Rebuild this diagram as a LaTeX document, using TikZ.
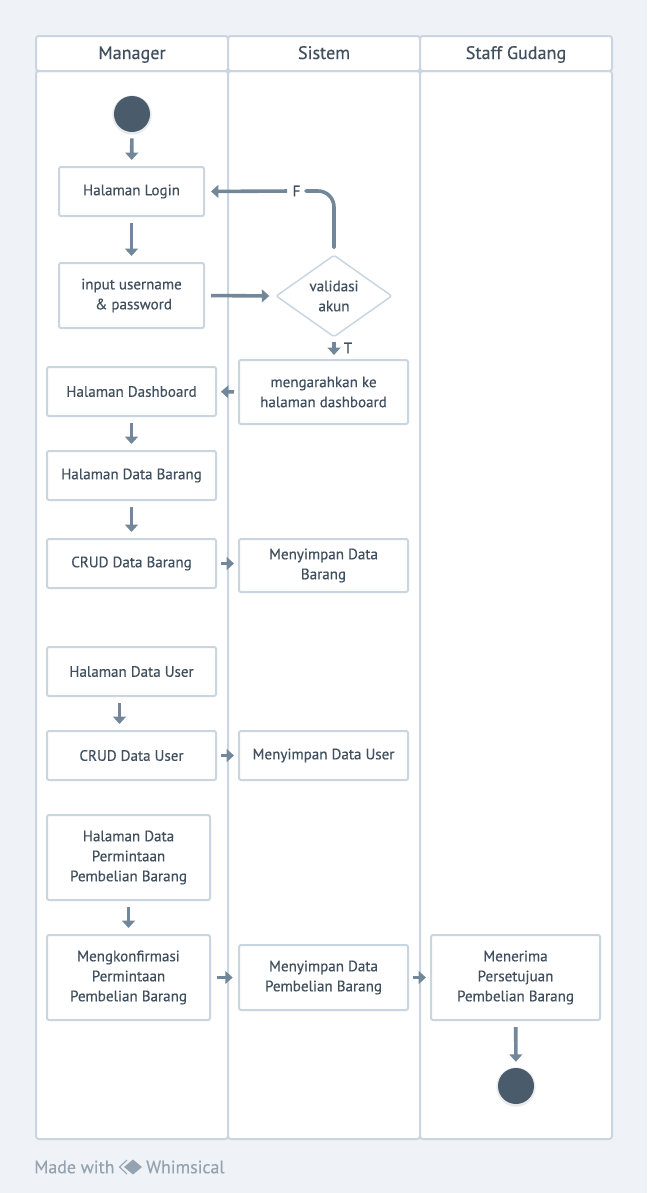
\documentclass[tikz,border=0pt]{standalone}
\usepackage{fontspec}
\setmainfont[FakeBold=0.3]{PT Sans}
\usetikzlibrary{arrows.meta,shapes.geometric,calc}
\definecolor{bgc}{HTML}{EFF3F7}
\definecolor{edge}{HTML}{C9D5E0}
\definecolor{arrowc}{HTML}{73879A}
\definecolor{dark}{HTML}{4A5C6C}
\definecolor{txt}{HTML}{3F4F5E}
\definecolor{foot}{HTML}{94A3AF}
\tikzset{
  x=0.75pt,y=-0.75pt,
  lane/.style={draw=edge,fill=white,line width=1.5pt,rounded corners=2pt},
  lanetitle/.style={text=txt,anchor=base,inner sep=0pt,font=\fontsize{13.6}{15}\selectfont},
  box/.style={draw=edge,fill=white,line width=1.5pt,rounded corners=1.5pt,text=txt,align=center,
    inner sep=0pt,font=\fontsize{11.3}{15}\selectfont,execute at begin node={\vspace*{2.2pt}}},
  dec/.style={box,diamond,minimum width=87pt,minimum height=61.5pt,line width=1.1pt},
  dot/.style={circle,fill=dark,minimum size=27pt,inner sep=0pt},
  halo/.style={circle,fill=dark,fill opacity=0.12,minimum size=29.5pt,inner sep=0pt},
  conn/.style={draw=arrowc,line width=2.7pt,shorten >=4.5pt,shorten <=4.5pt,
    -{Triangle[width=9.5pt,length=5.5pt]}},
  tight/.style={conn,shorten >=3pt,shorten <=3pt},
  plain/.style={draw=arrowc,line width=2.7pt,line cap=round},
  lbl/.style={text=txt,inner sep=0pt,font=\fontsize{11.3}{15}\selectfont},
  footer/.style={text=foot,inner sep=0pt,anchor=west,font=\fontsize{13.4}{15}\selectfont},
}
\newcommand{\bx}[6]{\node[box,minimum width=#4*0.75pt,minimum height=#5*0.75pt] (#1) at (#2,#3) {#6};}
\begin{document}
\begin{tikzpicture}
\useasboundingbox[fill=bgc] (0,0) rectangle (647,1193);
% lanes
\draw[lane] (36,71) rectangle (228,1139);
\draw[lane] (228,71) rectangle (420,1139);
\draw[lane] (420,71) rectangle (612,1139);
\draw[lane] (36,36) rectangle (228,71);
\draw[lane] (228,36) rectangle (420,71);
\draw[lane] (420,36) rectangle (612,71);
\node[lanetitle] (t1) at (132,59) {Manager};
\node[lanetitle] (t2) at (324,59) {Sistem};
\node[lanetitle] (t3) at (516,59) {Staff Gudang};
% nodes
\node[halo] (starth) at (132,115) {};
\node[dot] (start) at (132,114) {};
\bx{login}{131.5}{191.5}{145}{49}{Halaman Login}
\bx{input}{131.5}{295.5}{145}{65}{input username\\\ \& password}
\node[dec] (val) at (334,296) {validasi\\akun};
\bx{arah}{323.5}{392}{169}{64}{mengarahkan ke\\halaman dashboard}
\bx{dash}{131.5}{391.5}{169}{49}{Halaman Dashboard}
\bx{barang}{131.5}{475.5}{169}{49}{Halaman Data Barang}
\bx{crudb}{131.5}{563.5}{169}{49}{CRUD Data Barang}
\bx{simb}{323.5}{565.5}{169}{53}{Menyimpan Data\\Barang}
\bx{huser}{131.5}{671.5}{169}{49}{Halaman Data User}
\bx{crudu}{131.5}{755.5}{169}{49}{CRUD Data User}
\bx{simu}{323.5}{755.5}{169}{49}{Menyimpan Data User}
\bx{minta}{128.5}{857.5}{163}{85}{Halaman Data\\Permintaan\\Pembelian Barang}
\bx{konf}{128.5}{977.5}{163}{85}{Mengkonfirmasi\\Permintaan\\Pembelian Barang}
\bx{simp}{323.5}{977.5}{169}{65}{Menyimpan Data\\Pembelian Barang}
\bx{terima}{515.5}{977.5}{169}{85}{Menerima\\Persetujuan\\Pembelian Barang}
\node[halo] (endh) at (516,1087) {};
\node[dot] (end) at (516,1086) {};
% connectors
\path[conn] (start) -- (login);
\path[conn] (login) -- (input);
\path[conn] (input.east) -- (val.west);
\node[lbl] (F) at (296.5,191) {F};
\draw[plain,rounded corners=12pt,shorten <=5pt,shorten >=4pt] (val.north) |- (F.east);
\path[conn,shorten <=4pt] (F.west) -- (login.east);
\path[tight] (val.south) -- (val.south |- arah.north);
\node[lbl] (T) at (348,348) {T};
\path[tight] (arah.west) -- (dash.east);
\path[conn] (dash) -- (barang);
\path[conn] (barang) -- (crudb);
\path[tight] (crudb.east) -- (crudb.east -| simb.west);
\path[conn] ([xshift=-9pt]huser.south) -- ([xshift=-9pt]crudu.north);
\path[tight] (crudu) -- (simu);
\path[conn] (minta) -- (konf);
\path[conn,shorten >=4pt] (konf) -- (simp);
\path[tight] (simp) -- (terima);
\path[conn] (terima) -- (end);
% footer
\node[footer] (made) at (34,1167) {Made with};
\node[footer] (whim) at (146,1167) {Whimsical};
\fill[foot] (133,1159.5) -- (142,1167) -- (133,1174.5) -- (124,1167) -- cycle;
\draw[foot,line width=0.8pt] (127,1160) -- (119.5,1167) -- (127,1174);
\end{tikzpicture}
\end{document}
